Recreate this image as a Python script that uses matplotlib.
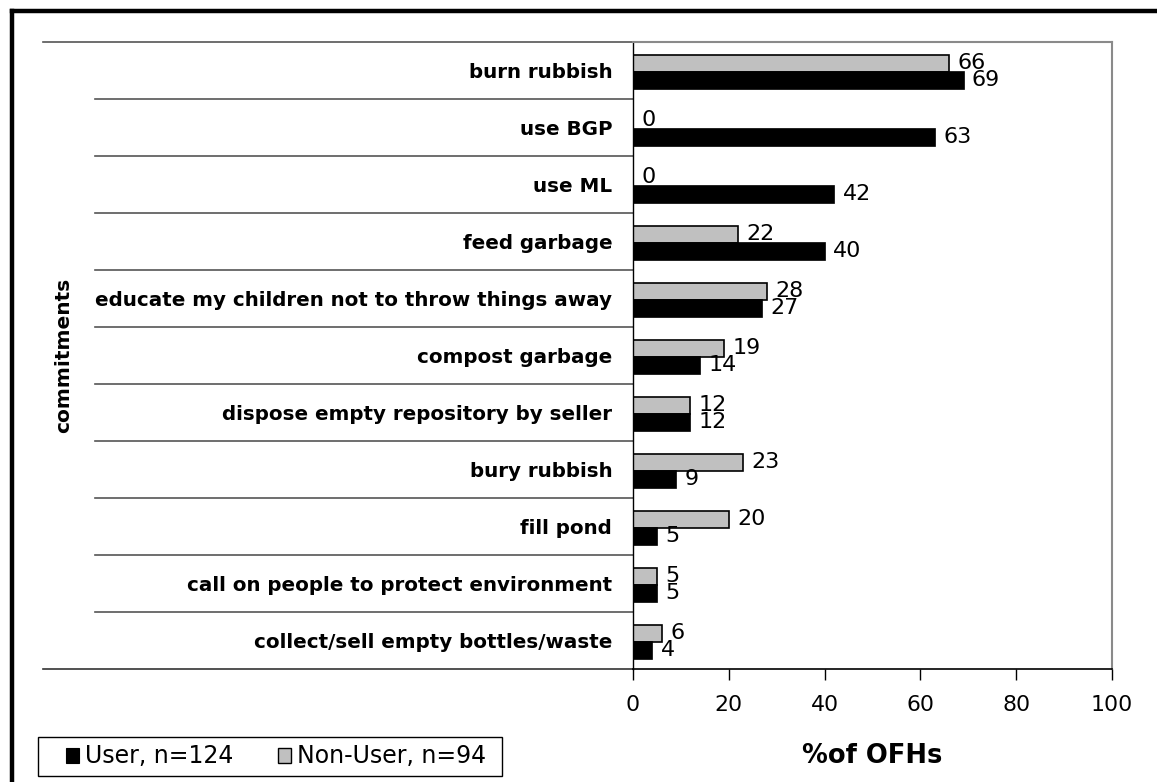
import matplotlib
matplotlib.use("Agg")
import matplotlib.pyplot as plt
import numpy as np
from matplotlib.patches import Patch, Rectangle
from matplotlib.lines import Line2D
import matplotlib.transforms as mtransforms

plt.rcParams['font.family'] = ['DejaVu Sans']

categories = [
    "burn rubbish",
    "use BGP",
    "use ML",
    "feed garbage",
    "educate my children not to throw things away",
    "compost garbage",
    "dispose empty repository by seller",
    "bury rubbish",
    "fill pond",
    "call on people to protect environment",
    "collect/sell empty bottles/waste",
]
user_values = [69, 63, 42, 40, 27, 14, 12, 9, 5, 5, 4]
nonuser_values = [66, 0, 0, 22, 28, 19, 12, 23, 20, 5, 6]
series_labels = ["User, n=124", "Non-User, n=94"]
xticks = [0, 20, 40, 60, 80, 100]

W, H = 1157, 782
fig = plt.figure(figsize=(W / 100, H / 100), dpi=100)
fig.patch.set_facecolor("white")

ax_left, ax_right, ax_top, ax_bottom = 633, 1112, 42, 669
ax = fig.add_axes([ax_left / W, 1 - ax_bottom / H, (ax_right - ax_left) / W, (ax_bottom - ax_top) / H])

y = np.arange(len(categories))
gray_off, gray_h = -0.125, 0.30
black_off, black_h = 0.165, 0.32

ax.barh(y + gray_off, nonuser_values, height=gray_h, color="#C0C0C0",
        edgecolor="black", linewidth=1.2, zorder=2)
ax.barh(y + black_off, user_values, height=black_h, color="black",
        edgecolor="black", linewidth=0.5, zorder=3)

label_fs = 16
for yi, v in zip(y, nonuser_values):
    ax.annotate(str(v), (v, yi + gray_off), xytext=(6, 0), textcoords="offset points",
                ha="left", va="center", fontsize=label_fs, zorder=4)
for yi, v in zip(y, user_values):
    ax.annotate(str(v), (v, yi + black_off), xytext=(6, 0), textcoords="offset points",
                ha="left", va="center", fontsize=label_fs, zorder=4)

ax.set_xlim(0, 100)
ax.set_ylim(len(categories) - 0.5, -0.5)
ax.set_xticks(xticks)
ax.set_xticklabels([str(t) for t in xticks])
ax.tick_params(axis="x", direction="out", length=8, width=1, pad=11, labelsize=15.8, color="black")
ax.set_yticks(y)
ax.set_yticklabels(categories, fontsize=14.3, fontweight="bold")
ax.tick_params(axis="y", length=0, pad=15)

for s in ["top", "right"]:
    ax.spines[s].set_color("#8a8a8a")
    ax.spines[s].set_linewidth(1.5)
ax.spines["left"].set_color("black")
ax.spines["bottom"].set_color("black")
ax.spines["left"].set_linewidth(1)
ax.spines["bottom"].set_linewidth(1.2)

# category separator lines extending left of the axis
trans = mtransforms.blended_transform_factory(ax.transAxes, ax.transData)
inner_x = (95 - ax_left) / (ax_right - ax_left)
outer_x = (43 - ax_left) / (ax_right - ax_left)
for k in range(1, len(categories)):
    ax.plot([inner_x, 0], [k - 0.5, k - 0.5], transform=trans, color="#555555",
            lw=1.2, clip_on=False, zorder=1)
ax.plot([outer_x, 0], [-0.5, -0.5], transform=trans, color="#555555", lw=1.2, clip_on=False)
ax.plot([outer_x, 0], [len(categories) - 0.5, len(categories) - 0.5], transform=trans,
        color="#333333", lw=1.2, clip_on=False)

ax.set_ylabel("commitments", fontsize=14.5, fontweight="bold")
ax.yaxis.set_label_coords((64 - ax_left) / (ax_right - ax_left), 0.5)
ax.yaxis.label.set_va("center")

ax.set_xlabel("%of OFHs", fontsize=18.5, fontweight="bold")
ax.xaxis.set_label_coords(0.5, (ax_bottom - 756) / (ax_bottom - ax_top))
ax.xaxis.label.set_va("center")

# legend
handles = [Patch(facecolor="black", edgecolor="black", linewidth=0.8),
           Patch(facecolor="#C0C0C0", edgecolor="black", linewidth=1.0)]
leg = fig.legend(handles, series_labels, loc="center left",
                 bbox_to_anchor=(66 / W, 1 - 756.5 / H), ncol=2, frameon=False,
                 fontsize=17, handlelength=0.55, handleheight=0.6, handletextpad=0.25,
                 columnspacing=1.9, borderpad=0, borderaxespad=0)
fig.add_artist(Rectangle((38 / W, 1 - 776 / H), (502 - 38) / W, (776 - 737) / H,
                         transform=fig.transFigure, fill=False, edgecolor="black", linewidth=1))

# figure border (left and top)
fig.add_artist(Line2D([12 / W, 12 / W], [0, 1 - 11 / H], transform=fig.transFigure,
                      color="black", lw=3.2, solid_capstyle="projecting"))
fig.add_artist(Line2D([12 / W, 1], [1 - 11 / H, 1 - 11 / H], transform=fig.transFigure,
                      color="black", lw=3.2, solid_capstyle="projecting"))

fig.savefig("out.png", dpi=100)
